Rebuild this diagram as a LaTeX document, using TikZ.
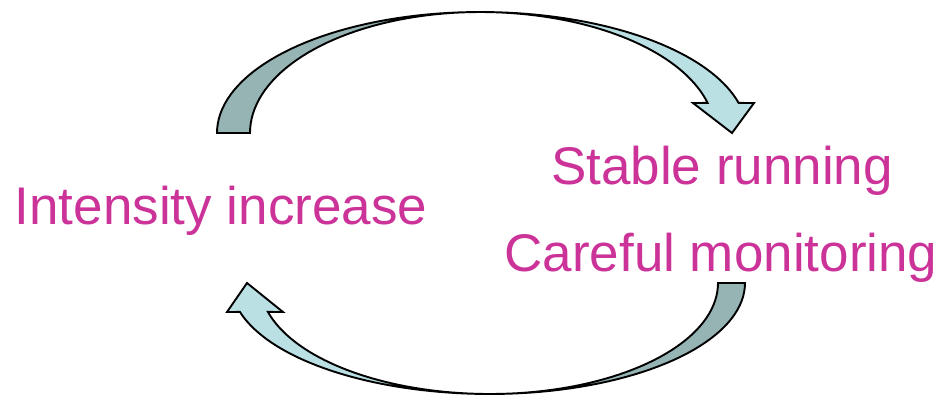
\documentclass[tikz,border=0pt]{standalone}
\usepackage{fontspec}
\setmainfont{Liberation Sans}
\definecolor{txtpink}{RGB}{204,51,153}
\definecolor{arrowdark}{RGB}{150,180,180}
\definecolor{arrowlight}{RGB}{186,224,228}
\begin{document}
\begin{tikzpicture}[x=1pt,y=-1pt,
  txt/.style={text=txtpink, font=\fontsize{53}{63}\selectfont, inner sep=0pt, anchor=base},
  backface/.style={fill=arrowdark, draw=black, line width=1.9pt},
  frontface/.style={fill=arrowlight, draw=black, line width=1.9pt}]
\useasboundingbox (0,0) rectangle (942,397);

% top curved arrow (left to right)
\path[backface] (217,133)
  -- plot[domain=180:270, samples=40, variable=\t] ({480+263*cos(\t)},{133+121*sin(\t)})
  -- plot[domain=270:180, samples=40, variable=\t] ({480+230*cos(\t)},{133+121*sin(\t)})
  -- cycle;
\path[frontface] (480,12)
  -- plot[domain=270:345.6, samples=40, variable=\t] ({480+267*cos(\t)},{133+121*sin(\t)})
  -- (754,103) -- (732,133) -- (693,103)
  -- plot[domain=345.6:270, samples=40, variable=\t] ({480+235*cos(\t)},{133+121*sin(\t)})
  -- cycle;

% bottom curved arrow (right to left)
\path[backface] (745,283)
  -- plot[domain=0:90, samples=40, variable=\t] ({490+255*cos(\t)},{283+111*sin(\t)})
  -- plot[domain=90:0, samples=40, variable=\t] ({490+228*cos(\t)},{283+111*sin(\t)})
  -- cycle;
\path[frontface] (490,394)
  -- plot[domain=90:164.9, samples=40, variable=\t] ({490+259*cos(\t)},{283+111*sin(\t)})
  -- (227,312) -- (247,283) -- (283,312)
  -- plot[domain=164.9:90, samples=40, variable=\t] ({490+230*cos(\t)},{283+111*sin(\t)})
  -- cycle;

\node[txt] (intensity) at (221,224) {Intensity increase};
\node[txt] (stable) at (722,184) {Stable running};
\node[txt] (careful) at (721,271) {Careful monitoring};
\end{tikzpicture}
\end{document}
